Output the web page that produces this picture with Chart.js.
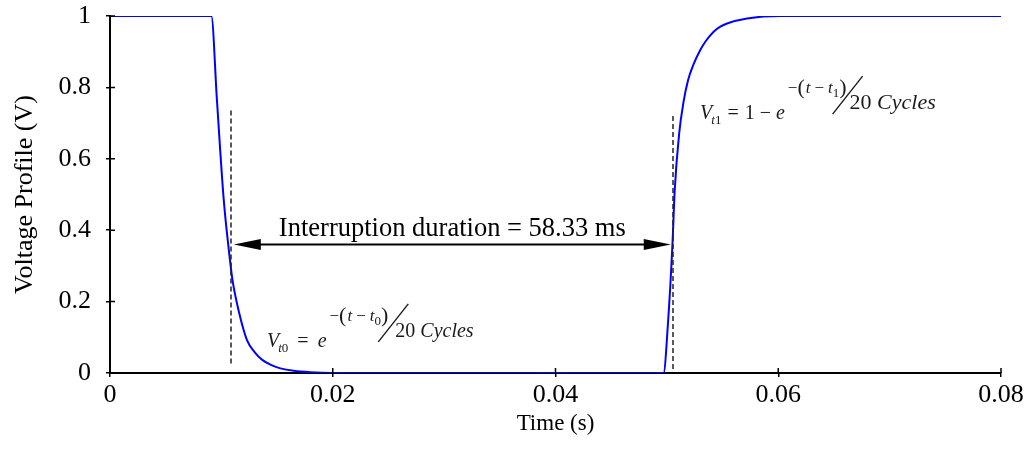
<!DOCTYPE html>
<html lang="en">
<head>
<meta charset="UTF-8">
<title>Voltage Profile</title>
<script src="https://cdn.jsdelivr.net/npm/chart.js"></script>
<style>
  html, body { margin: 0; padding: 0; background: #fff; }
  #wrap { width: 1024px; height: 449px; }
</style>
</head>
<body>
<div id="wrap"><canvas id="voltageChart" width="1024" height="449"></canvas></div>
<script>
// values
const timeS = [0, 0.0086, 0.0091, 0.0096, 0.0102, 0.0107, 0.0110, 0.0116, 0.0123, 0.0130, 0.0137,
  0.0145, 0.0153, 0.0165, 0.0180, 0.0200, 0.0300, 0.0400, 0.0497, 0.0501, 0.0505, 0.0507, 0.0511,
  0.0515, 0.0519, 0.0524, 0.0530, 0.0535, 0.0542, 0.0548, 0.0554, 0.0572, 0.0602, 0.0700, 0.0800];
const voltage = [1, 1, 1, 0.765, 0.49, 0.336, 0.26, 0.168, 0.092, 0.058, 0.036,
  0.022, 0.013, 0.006, 0.002, 0, 0, 0, 0, 0.14, 0.36, 0.51, 0.67,
  0.76, 0.82, 0.865, 0.905, 0.93, 0.956, 0.97, 0.979, 0.993, 1, 1, 1];
const xTicks = [0, 0.02, 0.04, 0.06, 0.08];
const yTicks = [0, 0.2, 0.4, 0.6, 0.8, 1];

// dashed markers at t0 and t1 and the arrow between them
const markerTimes = [0.01085, 0.05053];
const markerTops = [0.735, 0.72];
const markerBottoms = [0.02, 0.005];
const arrowLevel = 0.36;
const durationLabel = 'Interruption duration = 58.33 ms';
// anchors (time, voltage) of the two formulas
const formulaAnchors = [[0.0141, 0.073], [0.05298, 0.711]];

const SERIF = "'Liberation Serif', 'Times New Roman', serif";

function drawRun(ctx, x, y, parts) {
  parts.forEach(p => {
    ctx.font = p.f;
    x += p.gap || 0;
    ctx.fillText(p.s, x, y + (p.dy || 0));
    x += ctx.measureText(p.s).width;
  });
  return x;
}

const overlay = {
  id: 'overlay',
  afterDatasetsDraw(chart) {
    const { ctx, scales: { x, y } } = chart;
    ctx.save();

    // inner half of the tick marks
    ctx.strokeStyle = '#000';
    ctx.lineWidth = 1.5;
    ctx.beginPath();
    xTicks.forEach(v => {
      const px = x.getPixelForValue(v);
      ctx.moveTo(px, y.bottom);
      ctx.lineTo(px, y.bottom - 5);
    });
    yTicks.forEach(v => {
      const py = y.getPixelForValue(v);
      ctx.moveTo(x.left, py);
      ctx.lineTo(x.left + 5, py);
    });
    ctx.stroke();

    // dashed markers
    ctx.strokeStyle = '#222';
    ctx.lineWidth = 1.5;
    ctx.setLineDash([5, 3]);
    markerTimes.forEach((t, i) => {
      const px = Math.round(x.getPixelForValue(t));
      ctx.beginPath();
      ctx.moveTo(px, y.getPixelForValue(markerTops[i]));
      ctx.lineTo(px, y.getPixelForValue(markerBottoms[i]));
      ctx.stroke();
    });
    ctx.setLineDash([]);

    // double arrow
    const ay = y.getPixelForValue(arrowLevel);
    const ax0 = x.getPixelForValue(markerTimes[0]) + 3;
    const ax1 = x.getPixelForValue(markerTimes[1]) - 2;
    ctx.strokeStyle = '#000';
    ctx.fillStyle = '#000';
    ctx.lineWidth = 2;
    ctx.beginPath();
    ctx.moveTo(ax0 + 20, ay);
    ctx.lineTo(ax1 - 20, ay);
    ctx.stroke();
    ctx.beginPath();
    ctx.moveTo(ax0, ay);
    ctx.lineTo(ax0 + 27, ay - 5.5);
    ctx.lineTo(ax0 + 27, ay + 5.5);
    ctx.closePath();
    ctx.fill();
    ctx.beginPath();
    ctx.moveTo(ax1, ay);
    ctx.lineTo(ax1 - 27, ay - 5.5);
    ctx.lineTo(ax1 - 27, ay + 5.5);
    ctx.closePath();
    ctx.fill();

    // duration label
    ctx.font = '26.5px ' + SERIF;
    ctx.textAlign = 'center';
    ctx.textBaseline = 'alphabetic';
    ctx.fillText(durationLabel, (ax0 + ax1) / 2, ay - 8);

    // formulas
    ctx.textAlign = 'left';
    ctx.fillStyle = '#1a1a1a';
    const itS = 'italic 13px ' + SERIF, upS = '13px ' + SERIF;
    const itE = 'italic 17px ' + SERIF, upE = '17px ' + SERIF, par = '22px ' + SERIF;

    const subs = ['0', '1'];
    const mainSize = [20, 20];
    const denSize = [20, 22];
    const denShift = [7, 3];
    formulaAnchors.forEach((a, i) => {
      const it = 'italic ' + mainSize[i] + 'px ' + SERIF, up = mainSize[i] + 'px ' + SERIF;
      const bx = x.getPixelForValue(a[0]);
      const by = y.getPixelForValue(a[1]);
      // V_t = ...
      let cx = drawRun(ctx, bx, by, [
        { s: 'V', f: it },
        { s: 't', f: itS, dy: 5, gap: -1 },
        { s: subs[i], f: upS, dy: 5 }
      ]);
      const lhs = i === 0 ? [{ s: '=', f: up, gap: 9 }, { s: 'e', f: it, gap: 9 }]
                          : [{ s: '=', f: up, gap: 6 }, { s: '1', f: up, gap: 6 }, { s: '\u2212', f: up, gap: 5 }, { s: 'e', f: it, gap: 5 }];
      cx = drawRun(ctx, cx, by, lhs);
      // exponent
      const ey = by - 26;
      const ex = drawRun(ctx, cx + 3, ey, [
        { s: '\u2212', f: upE },
        { s: '(', f: par, dy: 1 },
        { s: 't', f: itE, gap: 1 },
        { s: '\u2212', f: upE, gap: 4 },
        { s: 't', f: itE, gap: 4 },
        { s: subs[i], f: upS, dy: 4 },
        { s: ')', f: par, dy: 1 }
      ]);
      // slash and denominator
      ctx.strokeStyle = '#1a1a1a';
      ctx.lineWidth = 1.4;
      ctx.beginPath();
      ctx.moveTo(ex - 14 + denShift[i] - 3, by - 5);
      ctx.lineTo(ex + 16 + denShift[i] - 3, by - 43);
      ctx.stroke();
      drawRun(ctx, ex + denShift[i], by - 10, [
        { s: '20 ', f: denSize[i] + 'px ' + SERIF },
        { s: 'Cycles', f: 'italic ' + denSize[i] + 'px ' + SERIF }
      ]);
    });

    ctx.restore();
  }
};

new Chart(document.getElementById('voltageChart'), {
  type: 'scatter',
  data: {
    datasets: [{
      data: timeS.map((t, i) => ({ x: t, y: voltage[i] })),
      showLine: true,
      borderColor: '#0000ff',
      borderWidth: 2,
      pointRadius: 0,
      cubicInterpolationMode: 'monotone'
    }]
  },
  options: {
    responsive: false,
    animation: false,
    layout: { padding: { top: 16, right: 23, left: 0, bottom: 0 } },
    plugins: { legend: { display: false }, tooltip: { enabled: false } },
    scales: {
      x: {
        type: 'linear',
        min: 0,
        max: 0.08,
        afterBuildTicks: s => { s.ticks = xTicks.map(v => ({ value: v })); },
        afterFit: s => { s.height = 76; s.paddingLeft = 0; s.paddingRight = 0; },
        grid: { drawOnChartArea: false, tickLength: 4, color: '#000', lineWidth: 1.5 },
        border: { color: '#000', width: 2 },
        ticks: { color: '#000', padding: 3, maxRotation: 0, font: { family: SERIF, size: 26 },
          callback: v => String(v) },
        title: { display: true, text: 'Time (s)', color: '#000', padding: { top: 0, bottom: 11 },
          font: { family: SERIF, size: 23 } }
      },
      y: {
        min: 0,
        max: 1,
        afterBuildTicks: s => { s.ticks = yTicks.map(v => ({ value: v })); },
        afterFit: s => { s.width = 110; s.paddingTop = 0; s.paddingBottom = 0; },
        grid: { drawOnChartArea: false, tickLength: 4, color: '#000', lineWidth: 1.5 },
        border: { color: '#000', width: 2 },
        ticks: { color: '#000', padding: 15, font: { family: SERIF, size: 26 },
          callback: v => String(v) },
        title: { display: true, text: 'Voltage Profile (V)', color: '#000', padding: { top: 10, bottom: 0 },
          font: { family: SERIF, size: 26 } }
      }
    }
  },
  plugins: [overlay]
});
</script>
</body>
</html>
